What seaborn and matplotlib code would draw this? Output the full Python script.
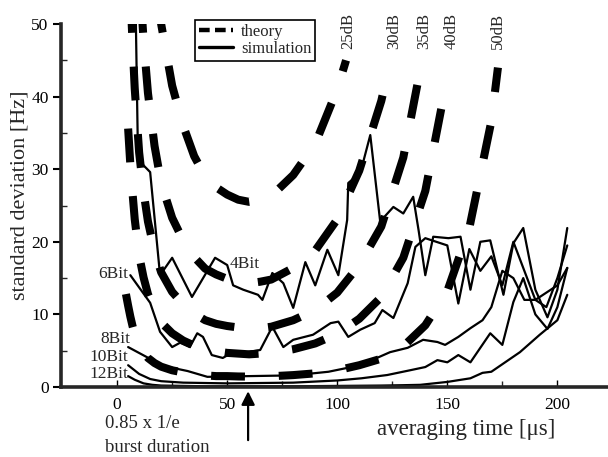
import matplotlib
matplotlib.use("Agg")
import matplotlib.pyplot as plt
from matplotlib.lines import Line2D
import seaborn as sns
import pandas as pd

# ---------------- data ----------------
# theory curves (standard deviation in Hz vs averaging time in us)
t_25dB = [5, 6, 7, 8, 10, 12, 14, 17, 20, 25, 30, 35, 40, 45, 50, 55, 60, 65, 70,
          80, 90, 100, 104]
theory_25dB = [200, 172, 150, 130, 102, 85, 72, 59, 50, 41.5, 36, 31.8, 29, 27.5, 26.5,
               25.8, 25.5, 25.7, 26.3, 29.2, 33.5, 41, 45]
t_30dB = [5, 6, 7, 8, 10, 12, 14, 17, 20, 25, 30, 35, 40, 45, 50, 55, 60, 65, 70,
          80, 90, 100, 110, 120, 123.5]
theory_30dB = [112.5, 96.7, 84.4, 73.1, 57.4, 47.8, 40.5, 33.2, 28.1, 23.3, 20.2, 17.9, 16.3,
               15.5, 14.9, 14.5, 14.3, 14.5, 14.8, 16.4, 18.8, 23.1, 29.8, 39.4, 44]
t_35dB = [5, 6, 7, 8, 10, 12, 14, 17, 20, 25, 30, 35, 40, 45, 50, 55, 60, 65, 70,
          80, 90, 100, 110, 120, 130, 137, 138.5]
theory_35dB = [63.3, 54.4, 47.4, 41.1, 32.3, 26.9, 22.8, 18.7, 15.8, 13.1, 11.4, 10.1, 9.2,
               8.7, 8.4, 8.2, 8.1, 8.1, 8.3, 9.2, 10.6, 13.0, 16.8, 22.1, 31.6, 42.6, 45]
t_40dB = [5, 6, 7, 8, 10, 12, 14, 17, 20, 25, 30, 35, 40, 45, 50, 55, 60, 65, 70,
          80, 90, 100, 110, 120, 130, 140, 148]
theory_40dB = [35.6, 30.6, 26.7, 23.1, 18.1, 15.1, 12.8, 10.5, 8.9, 7.4, 6.4, 5.7, 5.2, 4.9,
               4.7, 4.6, 4.5, 4.6, 4.7, 5.2, 6.0, 7.3, 9.4, 12.4, 17.8, 27.0, 39.5]
t_50dB = [4, 5, 6, 7, 8, 10, 12, 14, 17, 20, 25, 30, 35, 40, 45, 50, 55, 60, 65, 70,
          80, 90, 100, 110, 120, 130, 140, 150, 160, 170, 173]
theory_50dB = [12.8, 11.2, 9.7, 8.4, 7.3, 5.7, 4.8, 4.0, 3.3, 2.8, 2.3, 2.0, 1.8, 1.6, 1.5,
               1.5, 1.45, 1.43, 1.45, 1.48, 1.64, 1.88, 2.3, 3.0, 3.9, 5.6, 8.5, 13.2, 21.9,
               36.6, 44]
db_labels = ["25dB", "30dB", "35dB", "40dB", "50dB"]

# simulation curves
t_4bit = [8, 9.5, 15, 19.5, 25, 34, 44.5, 50, 52.7, 57.3, 64, 66, 70.5, 75.5, 80, 85.5, 90,
          95.5, 100.5, 104.5, 105, 110.5, 115, 119.5, 125.5, 130, 134.5, 137, 140, 143.6,
          150.5, 156, 160.5, 165, 169.5, 175.5, 180, 184.5, 190, 195.5, 200, 204.5]
sim_4bit = [60, 31.3, 29.6, 15.4, 17.8, 12.4, 17.8, 16.8, 14, 13.4, 12.7, 12, 15.7, 14.3,
            10.9, 17.2, 14, 18.9, 15.4, 23, 28.1, 29.5, 34.7, 22.8, 24.8, 23.9, 26.2, 21.5,
            15.4, 20.7, 20.5, 20.7, 13.4, 20, 20.2, 12.7, 19.8, 21.9, 13.4, 9.6, 13.4, 21.9]
t_6bit = [6, 15, 19.5, 25, 28.6, 33, 36.4, 39, 43, 48, 52, 59, 65, 70.5, 75.5, 80, 89, 97,
          100.5, 105, 110.5, 117, 120.5, 125.5, 132, 135.5, 140, 145, 150, 155, 160, 165,
          170, 175, 180, 185, 190, 195, 200, 204.5]
sim_6bit = [15.4, 11.6, 7.6, 5.5, 6.1, 5.5, 7.4, 6.9, 4.4, 4.0, 4.7, 4.8, 5.1, 8.3, 5.5, 6.5,
            7.2, 8.8, 9, 6.9, 7.9, 8.8, 10.6, 9.5, 14.3, 19.3, 20.5, 20, 19.5, 11.5, 19, 16,
            18, 14, 20, 16, 12, 11, 15, 19.5]
t_8bit = [5, 13.6, 19.5, 32, 41, 60, 80, 96, 110.5, 124, 132, 139, 145.5, 149, 155, 160.5,
          166, 170, 175, 180, 185, 190, 195, 200, 204.5]
sim_8bit = [5.5, 4.1, 3.0, 2.2, 1.4, 1.5, 1.6, 2.1, 3.0, 4.8, 5.4, 6.5, 6.2, 5.8, 6.9, 8.1,
            9.2, 11, 16, 15, 12, 12, 13, 14, 16.4]
t_10bit = [5, 10, 15, 20, 30, 50, 80, 100, 111, 122.7, 133, 140, 145.5, 150, 155, 160.5,
           169.5, 175, 180, 184.5, 190, 195.5, 200, 204.5]
sim_10bit = [3.0, 1.8, 1.1, 0.8, 0.6, 0.5, 0.6, 0.9, 1.2, 1.65, 2.3, 2.75, 3.7, 3.4, 4.4,
             3.4, 7.4, 5.8, 11.7, 15, 10, 8, 11, 16.4]
t_12bit = [5, 8, 12, 16, 20, 30, 40, 60, 80, 100, 120, 130, 137.7, 150, 160.5, 166, 170,
           183, 192, 200, 204.5]
sim_12bit = [1.5, 1.0, 0.5, 0.3, 0.2, 0.15, 0.1, 0.1, 0.1, 0.15, 0.2, 0.25, 0.3, 0.7, 1.2,
             1.95, 2.1, 4.8, 7.2, 9.2, 12.7]
bit_labels = ["4Bit", "6Bit", "8Bit", "10Bit", "12Bit"]

y_ticks = [0, 10, 20, 30, 40, 50]
x_ticks = [0, 50, 100, 150, 200]

# ---------------- frames ----------------
theory_df = pd.concat([
    pd.DataFrame({"t": tt, "sd": vals, "curve": lab})
    for lab, tt, vals in zip(db_labels,
                             [t_25dB, t_30dB, t_35dB, t_40dB, t_50dB],
                             [theory_25dB, theory_30dB, theory_35dB,
                              theory_40dB, theory_50dB])
], ignore_index=True)
sim_df = pd.concat([
    pd.DataFrame({"t": tt, "sd": vv, "curve": lab})
    for lab, tt, vv in zip(bit_labels,
                           [t_4bit, t_6bit, t_8bit, t_10bit, t_12bit],
                           [sim_4bit, sim_6bit, sim_8bit, sim_10bit, sim_12bit])
], ignore_index=True)

# ---------------- figure ----------------
sns.set_theme(style="ticks")
plt.rcParams["font.family"] = ["Liberation Serif", "DejaVu Serif"]

W, H = 608, 457
fig = plt.figure(figsize=(W / 100, H / 100), dpi=100)
ax = fig.add_axes([61 / W, 1 - 387 / H, 1 - 61 / W, (387 - 24) / H])

sns.lineplot(data=theory_df, x="t", y="sd", units="curve", estimator=None, sort=False,
             color="black", lw=5.8, linestyle=(0, (4.2, 4.2)), dash_capstyle="butt",
             ax=ax, legend=False)
sns.lineplot(data=sim_df, x="t", y="sd", units="curve", estimator=None, sort=False,
             color="black", lw=1.6, ax=ax, legend=False)

ax.set_xlim(-25.5, 223)
ax.set_ylim(0, 50)
sns.despine(ax=ax)
for side in ["left", "bottom"]:
    ax.spines[side].set_linewidth(2.6)

ax.set_yticks(y_ticks)
ax.set_yticks([5, 15, 25, 35, 45], minor=True)
ax.set_xticks(x_ticks)
ax.set_xticks([25, 75, 125, 175], minor=True)
ax.tick_params(axis="y", which="major", direction="out", length=6, width=1.5,
               labelsize=12.5, colors="black", pad=3)
ax.tick_params(axis="y", which="minor", direction="in", length=4, width=1)
ax.tick_params(axis="x", which="major", direction="in", length=5, width=1,
               labelsize=12.5, colors="black", pad=7)
ax.tick_params(axis="x", which="minor", direction="in", length=4, width=1)
ax.set_xlabel("")
ax.set_ylabel("")

fig.text(20 / W, 1 - 195 / H, "standard deviation [Hz]", rotation=90,
         ha="center", va="center", fontsize=16)
fig.text(466 / W, 1 - 430 / H, "averaging time [\u03bcs]", ha="center", va="center",
         fontsize=16.5)

# dB labels
for lab, xc in zip(db_labels, [348, 394, 424, 452, 498]):
    fig.text(xc / W, 1 - 31 / H, lab, rotation=90, ha="center", va="center", fontsize=12)

# Bit labels
bit_pos = {"6Bit": (128, 274), "8Bit": (130, 339), "10Bit": (128, 357), "12Bit": (128, 374)}
for lab, (xr, yc) in bit_pos.items():
    fig.text(xr / W, 1 - yc / H, lab, ha="right", va="center", fontsize=12.5)
fig.text(230 / W, 1 - 264 / H, "4Bit", ha="left", va="center", fontsize=12.5)

# arrow and annotation
ax.annotate("", xy=(59.5, -0.2), xytext=(59.5, -7.7), annotation_clip=False,
            arrowprops=dict(arrowstyle="-|>", lw=1.6, color="black", mutation_scale=20))
fig.text(105 / W, 1 - 423 / H, "0.85 x 1/e", ha="left", va="center", fontsize=13.5)
fig.text(105 / W, 1 - 448 / H, "burst duration", ha="left", va="center", fontsize=13.5)

# legend
handles = [Line2D([], [], color="black", lw=3.2, linestyle=(0, (2.4, 1.2)),
                  dash_capstyle="butt"),
           Line2D([], [], color="black", lw=2.4)]
leg = ax.legend(handles, ["theory", "simulation"], loc="upper left",
                bbox_to_anchor=(195 / W, 1 - 20 / H), bbox_transform=fig.transFigure,
                borderaxespad=0, fontsize=12, handlelength=2.0, handletextpad=0.5,
                labelspacing=0.05, borderpad=0.25, fancybox=False, framealpha=1)
leg.get_frame().set_edgecolor("black")
leg.get_frame().set_linewidth(1.2)

fig.savefig("out.png", dpi=100)
